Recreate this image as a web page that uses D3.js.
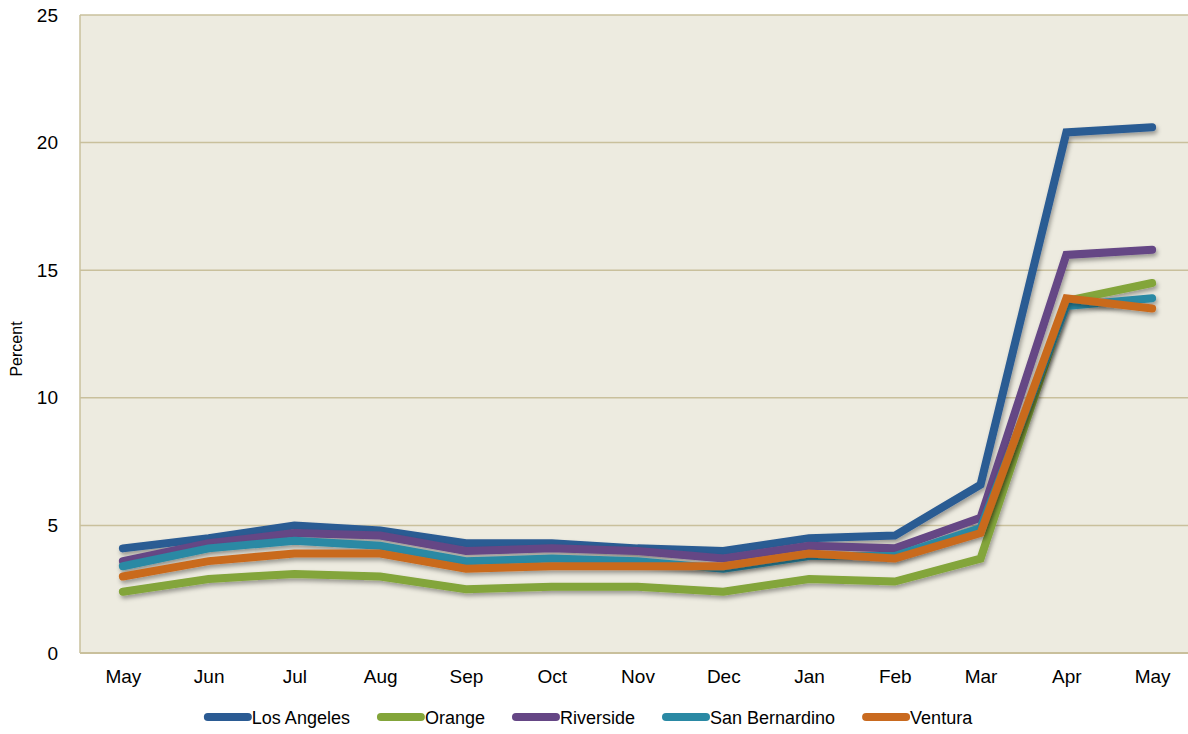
<!DOCTYPE html>
<html>
<head>
<meta charset="utf-8">
<script src="https://cdn.jsdelivr.net/npm/d3@7"></script>
<style>
  body { margin: 0; background: #fff; }
  text { font-family: "Liberation Sans", Arial, sans-serif; fill: #000; }
</style>
</head>
<body>
<div id="chart"></div>
<script>
// months along the x axis (May of one year to May of the next)
const months = ["May", "Jun", "Jul", "Aug", "Sep", "Oct", "Nov", "Dec", "Jan", "Feb", "Mar", "Apr", "May"];
const yTicks = [0, 5, 10, 15, 20, 25];

const losAngeles    = [4.1, 4.5, 5.0, 4.8, 4.3, 4.3, 4.1, 4.0, 4.5, 4.6, 6.6, 20.4, 20.6];
const orange        = [2.4, 2.9, 3.1, 3.0, 2.5, 2.6, 2.6, 2.4, 2.9, 2.8, 3.7, 13.8, 14.5];
const riverside     = [3.6, 4.3, 4.7, 4.6, 4.0, 4.1, 4.0, 3.7, 4.2, 4.1, 5.3, 15.6, 15.8];
const sanBernardino = [3.4, 4.1, 4.4, 4.2, 3.6, 3.7, 3.6, 3.3, 3.8, 3.8, 4.9, 13.6, 13.9];
const ventura       = [3.0, 3.6, 3.9, 3.9, 3.3, 3.4, 3.4, 3.4, 3.9, 3.7, 4.7, 13.9, 13.5];

const seriesNames = ["Los Angeles", "Orange", "Riverside", "San Bernardino", "Ventura"];
const seriesColors = ["#2b5b93", "#83a53a", "#654685", "#2a89a4", "#c96a1f"];
const seriesValues = [losAngeles, orange, riverside, sanBernardino, ventura];

const width = 1188, height = 734;
const margin = { top: 15, left: 80, bottom: 81, right: -7 };
const plotW = width - margin.left - margin.right;
const plotH = height - margin.top - margin.bottom;
const fontSize = "19px";

const svg = d3.select("#chart").append("svg")
    .attr("width", width)
    .attr("height", height);

// soft drop shadow under the lines
const filter = svg.append("defs").append("filter")
    .attr("id", "shadow")
    .attr("x", "-5%").attr("y", "-5%")
    .attr("width", "110%").attr("height", "120%");
filter.append("feDropShadow")
    .attr("dx", 1.5).attr("dy", 3)
    .attr("stdDeviation", 2)
    .attr("flood-color", "#000")
    .attr("flood-opacity", 0.35);

const g = svg.append("g")
    .attr("transform", "translate(" + margin.left + "," + margin.top + ")");

const x = d3.scalePoint().domain(d3.range(months.length)).range([0, plotW]).padding(0.5);
const y = d3.scaleLinear().domain([0, 25]).range([plotH, 0]);

// plot background
g.append("rect")
    .attr("width", plotW)
    .attr("height", plotH)
    .attr("fill", "#edebe0");

// gridlines
g.selectAll(".grid")
    .data(yTicks.filter(d => d > 0))
    .enter()
    .append("line")
    .attr("x1", 0).attr("x2", plotW)
    .attr("y1", d => y(d)).attr("y2", d => y(d))
    .attr("stroke", "#c9c09c")
    .attr("stroke-width", 1.5);

// left and bottom borders
g.append("line")
    .attr("x1", 0).attr("x2", 0).attr("y1", 0).attr("y2", plotH)
    .attr("stroke", "#c9c09c").attr("stroke-width", 1.5);
g.append("line")
    .attr("x1", 0).attr("x2", plotW).attr("y1", plotH).attr("y2", plotH)
    .attr("stroke", "#c9c09c").attr("stroke-width", 2);

// y axis labels
const yAxis = d3.axisLeft(y).tickValues(yTicks).tickSize(0).tickPadding(22);
const yg = g.append("g").call(yAxis);
yg.select(".domain").remove();
yg.selectAll("text").style("font-size", fontSize).attr("fill", "#000");

// x axis labels
const xAxis = d3.axisBottom(x).tickFormat(i => months[i]).tickSize(0).tickPadding(17);
const xg = g.append("g").attr("transform", "translate(0," + plotH + ")").call(xAxis);
xg.select(".domain").remove();
xg.selectAll("text").style("font-size", fontSize).attr("fill", "#000");

// y title
svg.append("text")
    .attr("transform", "translate(22,349) rotate(-90)")
    .attr("text-anchor", "middle")
    .style("font-size", "16px")
    .text("Percent");

// lines
const line = d3.line()
    .x((d, i) => x(i))
    .y(d => y(d));

g.selectAll(".series")
    .data(seriesValues)
    .enter()
    .append("path")
    .attr("d", line)
    .attr("fill", "none")
    .attr("stroke", (d, i) => seriesColors[i])
    .attr("stroke-width", 8)
    .attr("stroke-linecap", "round")
    .attr("stroke-linejoin", "miter")
    .attr("filter", "url(#shadow)");

// legend, laid out left to right and centred
const legend = svg.append("g");
let cursor = 0;
seriesNames.forEach(function(name, i) {
    const item = legend.append("g").attr("transform", "translate(" + cursor + ",0)");
    item.append("line")
        .attr("x1", 4).attr("x2", 44)
        .attr("y1", 0).attr("y2", 0)
        .attr("stroke", seriesColors[i])
        .attr("stroke-width", 8)
        .attr("stroke-linecap", "round");
    const t = item.append("text")
        .attr("x", 48)
        .attr("y", 7)
        .style("font-size", "18px")
        .text(name);
    cursor += 48 + t.node().getComputedTextLength() + 27;
});
const legendW = cursor - 27;
legend.attr("transform", "translate(" + (588 - legendW / 2) + ",717)");
</script>
</body>
</html>
